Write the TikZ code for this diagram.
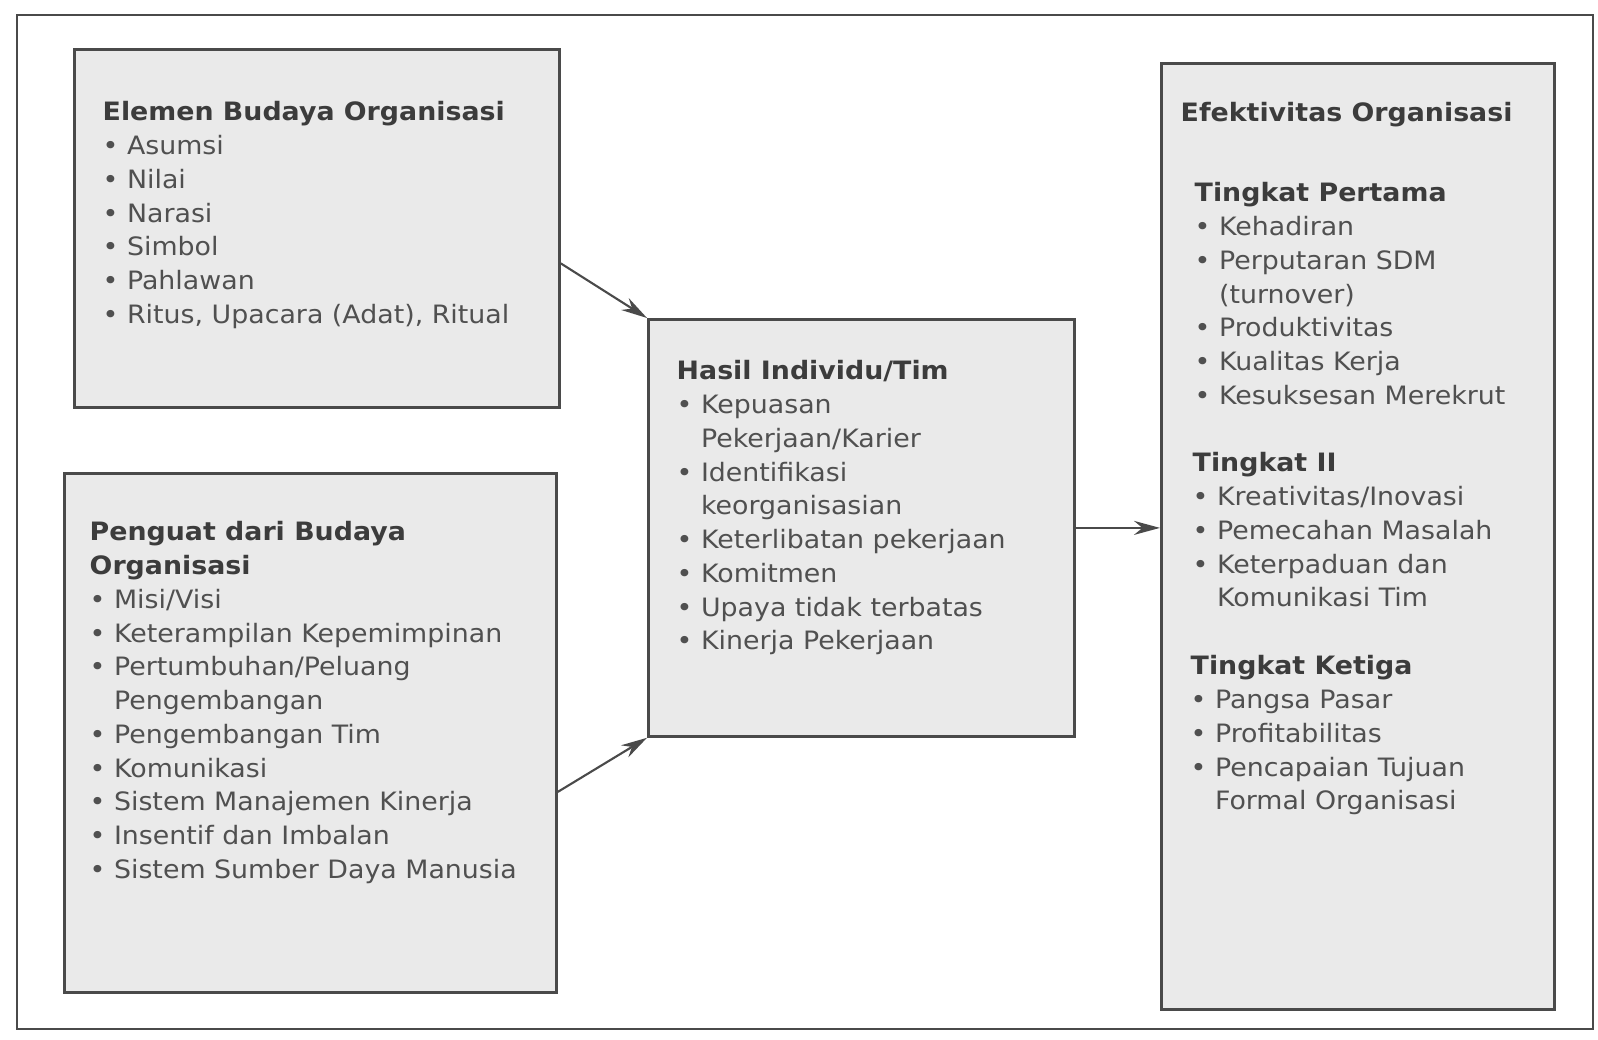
\documentclass[tikz,border=0pt]{standalone}
\usepackage{fontspec}
\setmainfont{DejaVu Sans}[FakeStretch=1.06]
\usetikzlibrary{arrows.meta}
\definecolor{inkgray}{HTML}{505050}
\definecolor{headgray}{HTML}{3C3C3C}
\definecolor{boxfill}{HTML}{EAEAEA}
\definecolor{linegray}{HTML}{4A4A4A}
\newcommand{\bul}{\textbullet\ }
\newcommand{\cont}{\phantom{\textbullet\ }}
\newcommand{\head}[1]{\textcolor{headgray}{\bfseries #1}}
\begin{document}
\begin{tikzpicture}[
  box/.style={draw=linegray,line width=0.8pt,fill=boxfill,anchor=north west,inner sep=0pt},
  txt/.style={anchor=north west,align=left,inner sep=0pt,text=inkgray,font=\fontsize{7.2}{9.6}\selectfont},
  link/.style={draw=linegray,line width=0.6pt,-{Stealth[length=0.26cm,width=0.14cm]}}
]
  \useasboundingbox (0,0) rectangle (15.98,-10.40);
  \draw[linegray,line width=0.6pt] (0.17,-0.15) rectangle (15.93,-10.29);
  % boxes
  \node[box,minimum width=4.85cm,minimum height=3.58cm] (elemen) at (0.73,-0.48) {};
  \node[box,minimum width=4.92cm,minimum height=5.19cm] (penguat) at (0.63,-4.72) {};
  \node[box,minimum width=4.26cm,minimum height=4.17cm] (hasil) at (6.47,-3.18) {};
  \node[box,minimum width=3.93cm,minimum height=9.46cm] (efek) at (11.60,-0.62) {};
  % texts
  \node[txt] (elementxt) at (1.02,-1.01) {\head{Elemen Budaya Organisasi}\\
    \bul Asumsi\\ \bul Nilai\\ \bul Narasi\\ \bul Simbol\\ \bul Pahlawan\\
    \bul Ritus, Upacara (Adat), Ritual};
  \node[txt] (penguattxt) at (0.89,-5.21) {\head{Penguat dari Budaya}\\ \head{Organisasi}\\
    \bul Misi/Visi\\ \bul Keterampilan Kepemimpinan\\ \bul Pertumbuhan/Peluang\\
    \cont Pengembangan\\ \bul Pengembangan Tim\\ \bul Komunikasi\\
    \bul Sistem Manajemen Kinerja\\ \bul Insentif dan Imbalan\\
    \bul Sistem Sumber Daya Manusia};
  \node[txt] (hasiltxt) at (6.76,-3.60) {\head{Hasil Individu/Tim}\\
    \bul Kepuasan\\ \cont Pekerjaan/Karier\\ \bul Identifikasi\\ \cont keorganisasian\\
    \bul Keterlibatan pekerjaan\\ \bul Komitmen\\ \bul Upaya tidak terbatas\\
    \bul Kinerja Pekerjaan};
  \node[txt] (efektxt) at (11.80,-1.02) {\head{Efektivitas Organisasi}};
  \node[txt] (tingkat1) at (11.94,-1.82) {\head{Tingkat Pertama}\\
    \bul Kehadiran\\ \bul Perputaran SDM\\ \cont (turnover)\\ \bul Produktivitas\\
    \bul Kualitas Kerja\\ \bul Kesuksesan Merekrut};
  \node[txt] (tingkat2) at (11.92,-4.52) {\head{Tingkat II}\\
    \bul Kreativitas/Inovasi\\ \bul Pemecahan Masalah\\ \bul Keterpaduan dan\\
    \cont Komunikasi Tim};
  \node[txt] (tingkat3) at (11.90,-6.55) {\head{Tingkat Ketiga}\\
    \bul Pangsa Pasar\\ \bul Profitabilitas\\ \bul Pencapaian Tujuan\\
    \cont Formal Organisasi};
  % connectors
  \draw[link] ([yshift=-0.35cm]elemen.east) -- (hasil.north west);
  \draw[link] ([yshift=-0.59cm]penguat.east) -- (hasil.south west);
  \draw[link] (hasil.east) -- (hasil.east -| efek.west);
\end{tikzpicture}
\end{document}
